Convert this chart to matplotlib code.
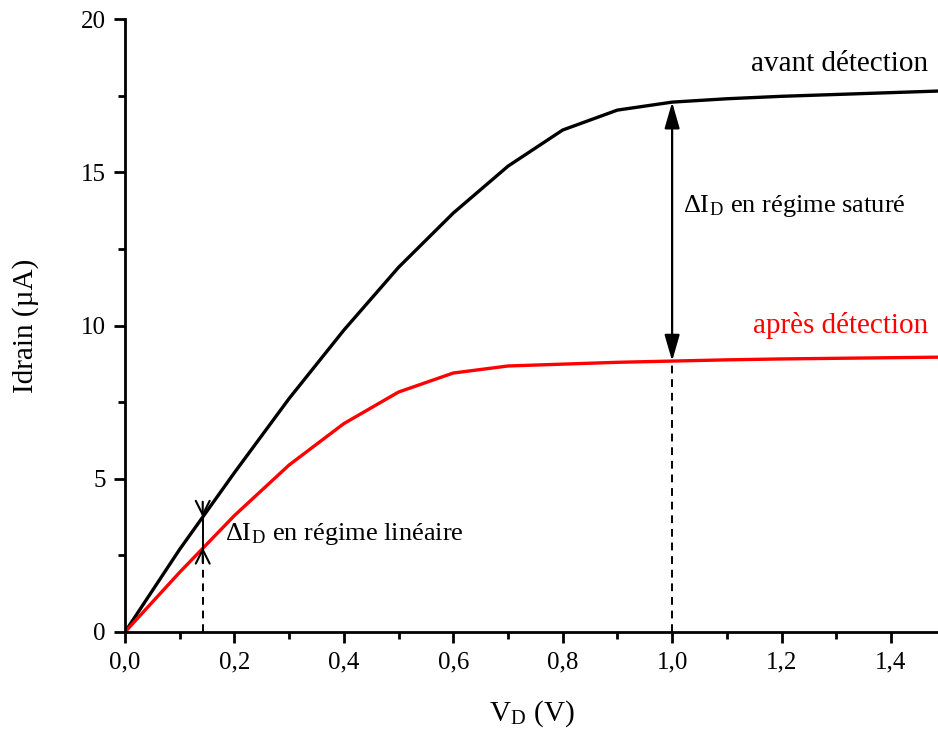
import matplotlib
matplotlib.use('Agg')
import matplotlib.pyplot as plt
from matplotlib.ticker import MultipleLocator, FuncFormatter

plt.rcParams['font.family'] = ['Liberation Serif', 'DejaVu Serif']
plt.rcParams['mathtext.fontset'] = 'stix'

# drain voltage (V) and drain current (uA)
vd = [0.0, 0.1, 0.2, 0.3, 0.4, 0.5, 0.6, 0.7, 0.8, 0.9, 1.0, 1.1, 1.2, 1.3, 1.4, 1.5]
i_avant = [0.0, 2.7, 5.2, 7.62, 9.85, 11.9, 13.67, 15.2, 16.38, 17.03, 17.29,
           17.4, 17.48, 17.54, 17.6, 17.66]
i_apres = [0.0, 1.95, 3.8, 5.45, 6.8, 7.83, 8.45, 8.68, 8.74, 8.8, 8.84,
           8.88, 8.91, 8.93, 8.95, 8.97]

# annotation points
v_lin, i_lin_hi, i_lin_lo = 0.142, 3.75, 2.76
v_sat, i_sat_hi, i_sat_lo = 1.0, 17.29, 8.84

fig = plt.figure(figsize=(9.38, 7.34), dpi=100)
ax = fig.add_axes([0.1333, 0.139, 0.8667, 0.835])

ax.plot(vd, i_avant, color='black', lw=2.4, solid_joinstyle='round')
ax.plot(vd, i_apres, color='red', lw=2.4, solid_joinstyle='round')

ax.set_xlim(0, 1.486)
ax.set_ylim(0, 20)

# dashed drops to the axis
ax.plot([v_lin, v_lin], [0, i_lin_lo], ls=(0, (4, 3)), color='black', lw=1.4)
ax.plot([v_sat, v_sat], [0, i_sat_lo], ls=(0, (4, 3)), color='black', lw=1.4)

# linear regime arrows
ax.plot([v_lin, v_lin], [i_lin_lo, i_lin_hi], color='black', lw=1.4)
ax.annotate('', xy=(v_lin, i_lin_hi), xytext=(v_lin, i_lin_hi + 0.5),
            arrowprops=dict(arrowstyle='->,head_length=0.5,head_width=0.25',
                            color='black', lw=1.5,
                            shrinkA=0, shrinkB=0, mutation_scale=20))
ax.annotate('', xy=(v_lin, i_lin_lo), xytext=(v_lin, i_lin_lo - 0.5),
            arrowprops=dict(arrowstyle='->,head_length=0.5,head_width=0.25',
                            color='black', lw=1.5,
                            shrinkA=0, shrinkB=0, mutation_scale=20))

# saturated regime double arrow
ax.annotate('', xy=(v_sat, i_sat_hi), xytext=(v_sat, i_sat_lo),
            arrowprops=dict(arrowstyle='<|-|>,head_length=0.8,head_width=0.23',
                            color='black', lw=1.6,
                            shrinkA=0, shrinkB=0, mutation_scale=20))

ax.text(1.02, 13.9, r'ΔI$_\mathregular{D}$ en régime saturé', fontsize=19,
        va='center', ha='left')
ax.text(0.183, 3.2, r'ΔI$_\mathregular{D}$ en régime linéaire', fontsize=19,
        va='center', ha='left')
ax.text(1.468, 18.55, 'avant détection', fontsize=21, va='center', ha='right')
ax.text(1.468, 10.0, 'après détection', fontsize=21, va='center', ha='right',
        color='red')

ax.set_xlabel(r'V$_\mathregular{D}$ (V)', fontsize=21, labelpad=18)
ax.set_ylabel('Idrain (µA)', fontsize=21, labelpad=30)

ax.xaxis.set_major_locator(MultipleLocator(0.2))
ax.xaxis.set_minor_locator(MultipleLocator(0.1))
ax.yaxis.set_major_locator(MultipleLocator(5))
ax.yaxis.set_minor_locator(MultipleLocator(2.5))
ax.xaxis.set_major_formatter(FuncFormatter(lambda v, p: f'{v:.1f}'.replace('.', ',')))

ax.spines['top'].set_visible(False)
ax.spines['right'].set_visible(False)
for s in ('left', 'bottom'):
    ax.spines[s].set_linewidth(2)
ax.tick_params(which='major', direction='out', length=8, width=2,
               labelsize=18, pad=6)
ax.tick_params(which='minor', direction='out', length=5, width=2)

fig.savefig('out.png', dpi=100)
